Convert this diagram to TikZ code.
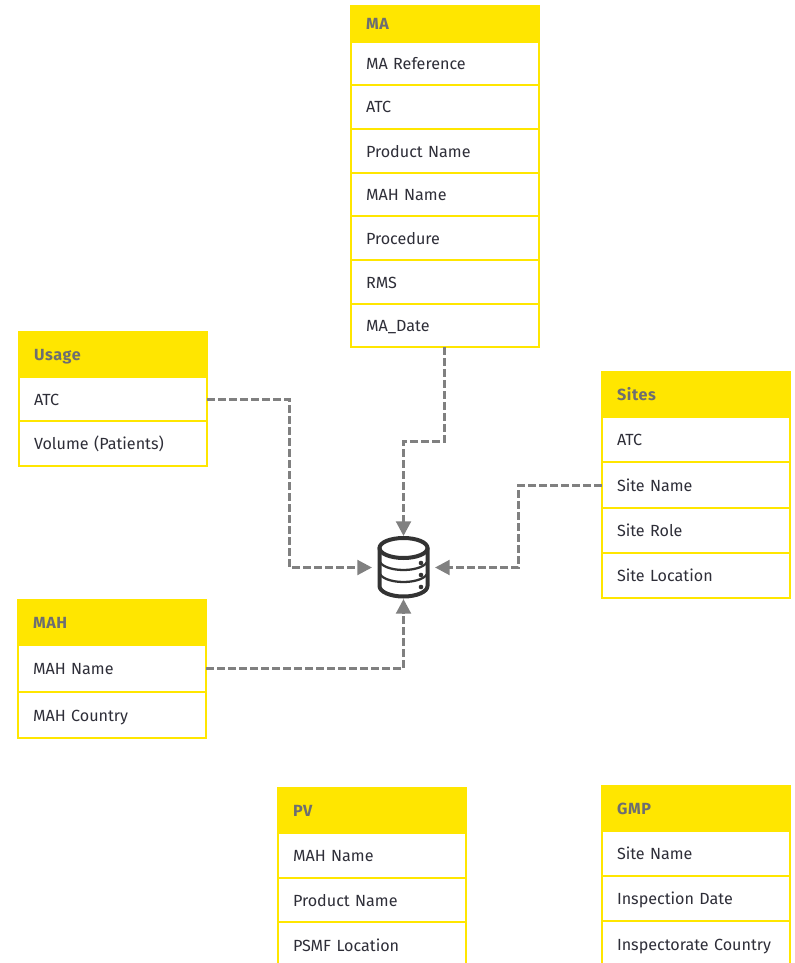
\documentclass[tikz,border=0pt]{standalone}
\usepackage{fontspec}
\setmainfont{Fira Sans}
\newfontfamily\headfont[LetterSpace=4]{Fira Sans}
\usetikzlibrary{arrows.meta}
\definecolor{eyyellow}{HTML}{FFE600}
\definecolor{eygrey}{HTML}{6D6E71}
\definecolor{eyink}{HTML}{2E2E38}
\definecolor{linkgrey}{HTML}{808080}
\definecolor{dbink}{HTML}{333333}
\newcommand{\tabcell}[6][rowcell]{\node[#1,minimum height={(#5-#4)*0.75pt}] (#2) at ({#3+94},{(#4+#5)/2}) {#6};}
\begin{document}
\begin{tikzpicture}[x=0.75pt,y=-0.75pt,
  basecell/.style={draw=eyyellow,line width=1.5pt,inner xsep=11.25pt,inner ysep=0pt,outer sep=0pt,
    text width=118.5pt,align=left,font=\fontsize{12.1pt}{14pt}\selectfont,text height=11.5pt,text depth=2.5pt},
  rowcell/.style={basecell,fill=white,text=eyink},
  headcell/.style={basecell,fill=eyyellow,text=eygrey,font=\fontsize{12.1pt}{14pt}\selectfont\headfont\bfseries},
  link/.style={draw=linkgrey,line width=2.25pt,dash pattern=on 6pt off 2.25pt,
    -{Triangle[length=11pt,width=11pt,color=linkgrey]}},
  dbline/.style={draw=dbink,line width=3pt,line cap=round,line join=round},
  dbthin/.style={draw=dbink,line width=1.7pt,line cap=round},
  dbdot/.style={fill=dbink,draw=none}]
\clip (0,0) rectangle (794,963);
\fill[white] (0,0) rectangle (794,963);
% MA
\tabcell{ma1}{351}{42}{85}{MA Reference}
\tabcell{ma2}{351}{85}{129}{ATC}
\tabcell{ma3}{351}{129}{173}{Product Name}
\tabcell{ma4}{351}{173}{216}{MAH Name}
\tabcell{ma5}{351}{216}{260}{Procedure}
\tabcell{ma6}{351}{260}{304}{RMS}
\tabcell{ma7}{351}{304}{347}{MA\_Date}
\tabcell[headcell]{ma}{351}{6}{42}{MA}
% Usage
\tabcell{us1}{19}{377}{421}{ATC}
\tabcell{us2}{19}{421}{466}{Volume (Patients)}
\tabcell[headcell]{us}{19}{332}{377}{Usage}
% Sites
\tabcell{si1}{602}{417}{462}{ATC}
\tabcell{si2}{602}{462}{508}{Site Name}
\tabcell{si3}{602}{508}{553}{Site Role}
\tabcell{si4}{602}{553}{598}{Site Location}
\tabcell[headcell]{si}{602}{372}{417}{Sites}
% MAH
\tabcell{mh1}{18}{645}{692}{MAH Name}
\tabcell{mh2}{18}{692}{738}{MAH Country}
\tabcell[headcell]{mh}{18}{600}{645}{MAH}
% PV
\tabcell{pv1}{278}{833}{878}{MAH Name}
\tabcell{pv2}{278}{878}{922}{Product Name}
\tabcell{pv3}{278}{922}{968}{PSMF Location}
\tabcell[headcell]{pv}{278}{788}{833}{PV}
% GMP
\tabcell{gm1}{602}{831}{876}{Site Name}
\tabcell{gm2}{602}{876}{921}{Inspection Date}
\tabcell{gm3}{602}{921}{968}{Inspectorate Country}
\tabcell[headcell]{gm}{602}{786}{831}{GMP}
% database icon
\node[minimum width=47.25pt,minimum height=47.25pt,inner sep=0pt,outer sep=0pt] (db) at (403.5,567.5) {};
\draw[dbline] (403.5,548) ellipse [x radius=24,y radius=10];
\draw[dbline] (379.5,548) -- (379.5,586) arc[start angle=180,end angle=0,x radius=24,y radius=10.5] -- (427.5,548);
\draw[dbthin] (379.5,560) arc[start angle=180,end angle=0,x radius=24,y radius=10];
\draw[dbthin] (379.5,572) arc[start angle=180,end angle=0,x radius=24,y radius=10];
\fill[dbdot] (421,563) circle (2.3);
\fill[dbdot] (421,575) circle (2.3);
\fill[dbdot] (421,587) circle (2.3);
% connectors
\coordinate (usbend) at (289.5,399.5);
\coordinate (usbend2) at (289.5,567.5);
\draw[link] (us1.east |- usbend) -- (usbend) -- (usbend2) -- (db.west);
\coordinate (mabend) at (444.5,441.5);
\coordinate (mabend2) at (403.5,441.5);
\draw[link] (ma7.south -| mabend) -- (mabend) -- (mabend2) -- (db.north);
\coordinate (sibend) at (518.5,485.5);
\coordinate (sibend2) at (518.5,567.5);
\draw[link] (si2.west |- sibend) -- (sibend) -- (sibend2) -- (db.east);
\coordinate (mhbend) at (403.5,668.5);
\draw[link] (mh1.east |- mhbend) -- (mhbend) -- (db.south);
\end{tikzpicture}
\end{document}
